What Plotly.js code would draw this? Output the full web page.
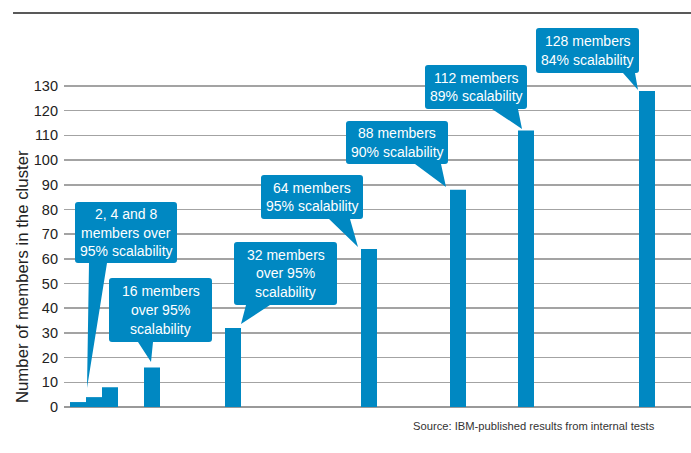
<!DOCTYPE html>
<html>
<head>
<meta charset="utf-8">
<script src="https://cdn.plot.ly/plotly-3.0.1.min.js"></script>
<style>html,body{margin:0;padding:0;background:#fff;}#chart{width:691px;height:453px;}</style>
</head>
<body>
<div id="chart"></div>
<script>
// ---- data ----
const memberCounts = [2, 4, 8, 16, 32, 64, 88, 112, 128];
const yTickValues = [0, 10, 20, 30, 40, 50, 60, 70, 80, 90, 100, 110, 120, 130];
const calloutTexts = [
  ["2, 4 and 8", "members over", "95% scalability"],
  ["16 members", "over 95%", "scalability"],
  ["32 members", "over 95%", "scalability"],
  ["64 members", "95% scalability"],
  ["88 members", "90% scalability"],
  ["112 members", "89% scalability"],
  ["128 members", "84% scalability"]
];
const calloutBar = [1, 3, 4, 5, 6, 7, 8];
const yTitle = "Number of members in the cluster";
const sourceNote = "Source: IBM-published results from internal tests";

// ---- layout (positions / styles) ----
const slotPos = [14, 30, 46, 88, 169, 305, 394, 462, 583]; // designer slot centres along hidden x axis
const barWidth = 16;
// bubble geometry in pixels relative to bar top-centre (y up): box [x0,x1,yb,yt], base [bx0,bx1], tip [tx,ty]
const bubbleGeom = [
  {box: [-19, 83, 134, 195], base: [-5, 13], tip: [-7, 9]},
  {box: [-43, 60, 25.5, 89.5], base: [-14, 1], tip: [-1, 5.5]},
  {box: [1, 104, 23, 86], base: [13, 37], tip: [8, 4]},
  {box: [-108, -6, 30, 74], base: [-40, -19], tip: [-11, 2]},
  {box: [-112, -10, 25.7, 68.7], base: [-43, -17], tip: [-12, 2.7]},
  {box: [-101, 1, 21.5, 65.5], base: [-34, -8], tip: [-4, 1.5]},
  {box: [-111, -8, 18, 63], base: [-24, -12], tip: [-9, 1]}
];
const BLUE = '#0088c2';
const SANS = '"Liberation Sans", Arial, sans-serif';
const F_CALLOUT = {family: SANS, size: 14, color: '#ffffff'};
const F_TICK = {family: SANS, size: 14.5, color: '#222'};
const F_SOURCE = {family: SANS, size: 11.2, color: '#333'};
const lineGap = 18.7;

function bubblePath(g) {
  const [x0, x1, yb, yt] = g.box, [bx0, bx1] = g.base, [tx, ty] = g.tip, r = 3;
  return `M${x0 + r},${yt} L${x1 - r},${yt} Q${x1},${yt} ${x1},${yt - r} L${x1},${yb + r} Q${x1},${yb} ${x1 - r},${yb} ` +
         `L${bx1},${yb} L${tx},${ty} L${bx0},${yb} L${x0 + r},${yb} Q${x0},${yb} ${x0},${yb + r} L${x0},${yt - r} Q${x0},${yt} ${x0 + r},${yt} Z`;
}

const shapes = [{
  type: 'line', xref: 'paper', yref: 'paper', x0: -0.0813, x1: 1, y0: 1, y1: 1,
  line: {color: '#222', width: 1.5}
}];
const annotations = [];

calloutTexts.forEach((lines, k) => {
  const i = calloutBar[k], g = bubbleGeom[k];
  shapes.push({
    type: 'path', xref: 'x', yref: 'y', xsizemode: 'pixel', ysizemode: 'pixel',
    xanchor: slotPos[i], yanchor: memberCounts[i],
    path: bubblePath(g), fillcolor: BLUE, line: {width: 0}, layer: 'above'
  });
  const cx = (g.box[0] + g.box[1]) / 2, cy = (g.box[2] + g.box[3]) / 2;
  lines.forEach((t, j) => {
    annotations.push({
      x: slotPos[i], y: memberCounts[i], xref: 'x', yref: 'y', showarrow: false,
      xshift: cx, yshift: cy + ((lines.length - 1) / 2 - j) * lineGap,
      text: t, xanchor: 'center', yanchor: 'middle', font: F_CALLOUT
    });
  });
});

annotations.push({
  text: yTitle, textangle: -90, xref: 'paper', yref: 'y', x: -0.067, y: 53,
  xanchor: 'center', yanchor: 'middle', showarrow: false,
  font: {family: SANS, size: 16.8, color: '#222'}
});
annotations.push({
  text: sourceNote, xref: 'paper', yref: 'paper', x: 0.9458, y: -0.048,
  xanchor: 'right', yanchor: 'middle', showarrow: false, font: F_SOURCE
});

const trace = {
  type: 'bar', x: slotPos, y: memberCounts, width: barWidth,
  marker: {color: BLUE, line: {width: 0}}, hoverinfo: 'skip'
};

const layout = {
  width: 691, height: 453,
  margin: {l: 64, r: 0, t: 13, b: 46, pad: 0},
  paper_bgcolor: '#fff', plot_bgcolor: '#fff',
  showlegend: false,
  xaxis: {range: [0, 627], showgrid: false, zeroline: false, showline: false, showticklabels: false, ticks: '', fixedrange: true},
  yaxis: {
    range: [0, 159.56], tickmode: 'array', tickvals: yTickValues, ticktext: yTickValues.map(String),
    showgrid: true, gridcolor: '#a3a3a3', gridwidth: 1.5,
    zeroline: true, zerolinecolor: '#999', zerolinewidth: 2,
    showline: false, ticks: '', ticklabelstandoff: 5,
    tickfont: F_TICK, fixedrange: true
  },
  shapes: shapes,
  annotations: annotations
};

Plotly.newPlot('chart', [trace], layout, {displayModeBar: false, staticPlot: true});
</script>
</body>
</html>
